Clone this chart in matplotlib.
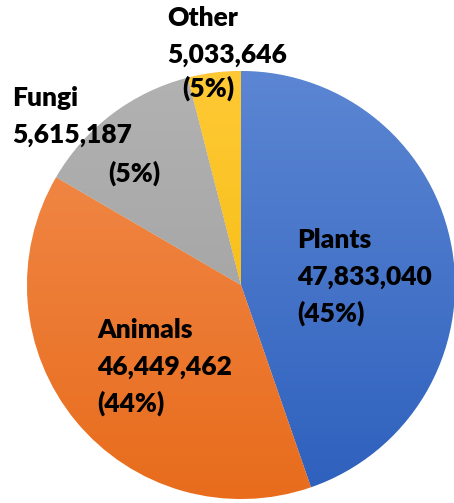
import numpy as np
import matplotlib.pyplot as plt
from matplotlib.colors import LinearSegmentedColormap

# kingdoms, clockwise from 12 o'clock
kingdoms = ["Plants", "Animals", "Fungi", "Other"]
counts = [47833040, 46449462, 5615187, 5033646]
pct_labels = ["(45%)", "(44%)", "(5%)", "(5%)"]
# slice sizes as drawn in the picture (they do not follow the labels)
slice_share = [44.7, 38.7, 12.6, 4.0]

# gradient top / bottom colours for each slice
tops = ["#5C86D3", "#F28D50", "#B2B2B2", "#FFC936"]
bottoms = ["#2D60BD", "#E86C1C", "#9C9C9C", "#F0B800"]

W, H = 454, 503
fig = plt.figure(figsize=(W / 100, H / 100), dpi=100)
ax = fig.add_axes([0, 0, 1, 1])

# pixel coords measured from top, converted to data y
cx, cy, r = 241, H - 285, 214

wedges, _ = ax.pie(slice_share, startangle=90, counterclock=False,
                   center=(cx, cy), radius=r, frame=True,
                   wedgeprops=dict(linewidth=0.6, edgecolor="white"))

grad = np.linspace(1, 0, 256).reshape(-1, 1)
for w, c1, c2 in zip(wedges, tops, bottoms):
    cmap = LinearSegmentedColormap.from_list("g", [c2, c1])
    im = ax.imshow(grad, cmap=cmap, extent=(cx - r, cx + r, cy - r, cy + r),
                   origin="upper", aspect="auto", zorder=w.get_zorder() + 0.1)
    im.set_clip_path(w)

ax.set_xlim(0, W)
ax.set_ylim(0, H)
ax.axis("off")

font = dict(family=["Lato", "DejaVu Sans"], fontweight="heavy", fontsize=19,
            color="black", ha="left", va="center", zorder=10)

# name + value blocks, then percentages (pixel positions from top)
name_pos = {"Plants": (297, 240), "Animals": (97, 330), "Fungi": (12, 98), "Other": (167, 18)}
pct_pos = {"Plants": (297, 313), "Animals": (97, 403), "Fungi": (108, 173), "Other": (182, 88)}
gap = 37
for k, v, p in zip(kingdoms, counts, pct_labels):
    x, y = name_pos[k]
    ax.text(x, H - y, k, **font)
    ax.text(x, H - y - gap, f"{v:,}", **font)
    px, py = pct_pos[k]
    ax.text(px, H - py, p, **font)

fig.savefig("out.png", dpi=100)
